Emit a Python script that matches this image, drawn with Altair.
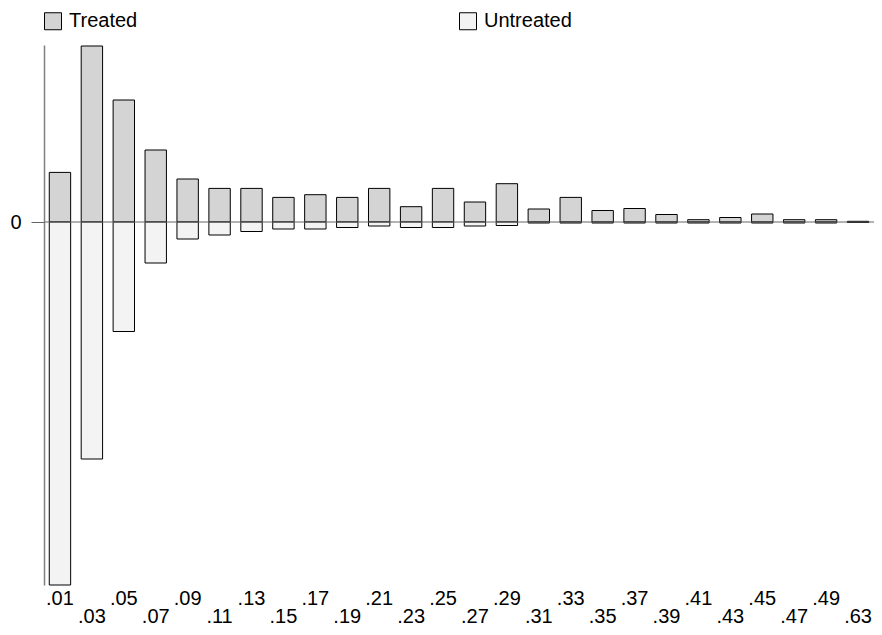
import json
import altair as alt
import pandas as pd

# Propensity-score bins (category labels)
cats = [".01", ".03", ".05", ".07", ".09", ".11", ".13", ".15", ".17", ".19",
        ".21", ".23", ".25", ".27", ".29", ".31", ".33", ".35", ".37", ".39",
        ".41", ".43", ".45", ".47", ".49", ".63"]

# Heights (arbitrary units)
treated = [49.6, 176, 122, 72, 43, 33.6, 33.6, 24.6, 27.3, 24.6,
           33.6, 15.3, 33.6, 20, 38.3, 13, 24.6, 11.5, 13.5, 7.5,
           2.3, 4.5, 8, 2.3, 2.3, 0.7]
untreated = [363, 237, 109.5, 41, 17, 13, 9.5, 7, 7, 5.5,
             4, 5.5, 5.5, 4, 3.5, 1, 1, 1, 1, 1,
             1, 1, 1, 1, 1, 0.5]

groups = ["Treated", "Untreated"]
zero_line = [0]

rows = []
for c, t, u in zip(cats, treated, untreated):
    rows.append({"cat": c, "group": "Treated", "value": t})
    rows.append({"cat": c, "group": "Untreated", "value": -u})
df = pd.DataFrame(rows)

FONT = "Liberation Sans"
odd_cats = cats[1::2]
test = "indexof(" + json.dumps(odd_cats) + ", datum.value) >= 0"

bars = alt.Chart(df).mark_bar(stroke="black", strokeWidth=1).encode(
    x=alt.X(
        "cat:N",
        sort=cats,
        scale=alt.Scale(paddingInner=0.33, paddingOuter=0.165),
        axis=alt.Axis(
            title=None, labelAngle=0, ticks=False, tickSize=0, domain=False,
            grid=False,
            labelFont=FONT, labelFontSize=20, labelColor="black",
            labelBaseline="top", labelOverlap=False, labelFlush=False,
            labelPadding={"condition": {"test": test, "value": 21}, "value": 3},
        ),
    ),
    y=alt.Y(
        "value:Q",
        stack=None,
        scale=alt.Scale(domain=[-363, 177], nice=False, zero=False),
        axis=alt.Axis(
            title=None, values=[0], grid=False, domain=True, ticks=True,
            tickSize=13, tickColor="#666666", tickWidth=1,
            domainColor="#808080", domainWidth=1.5,
            labelFont=FONT, labelFontSize=20, labelColor="black", labelPadding=10,
        ),
    ),
    fill=alt.Fill(
        "group:N",
        scale=alt.Scale(domain=groups, range=["#d4d4d4", "#f3f3f3"]),
        legend=alt.Legend(
            title=None, orient="none", legendX=-1, legendY=-34,
            direction="horizontal", columns=2, columnPadding=319,
            symbolType="square", symbolSize=289, symbolStrokeColor="black",
            symbolStrokeWidth=1, labelFont=FONT, labelFontSize=20,
            labelColor="black", labelOffset=6, padding=0, rowPadding=0,
        ),
    ),
)

rule = alt.Chart(pd.DataFrame({"y": zero_line})).mark_rule(
    color="#666666", strokeWidth=1
).encode(y=alt.Y("y:Q"))

chart = alt.layer(bars, rule).properties(
    width=830,
    height=540,
    background="white",
    padding={"left": 36, "top": 37, "right": 0, "bottom": 42},
    autosize=alt.AutoSizeParams(type="none"),
).configure_view(stroke="transparent", strokeWidth=0).configure_axis(grid=False)

chart.save("out.html", embed_options={"renderer": "svg", "actions": False})
